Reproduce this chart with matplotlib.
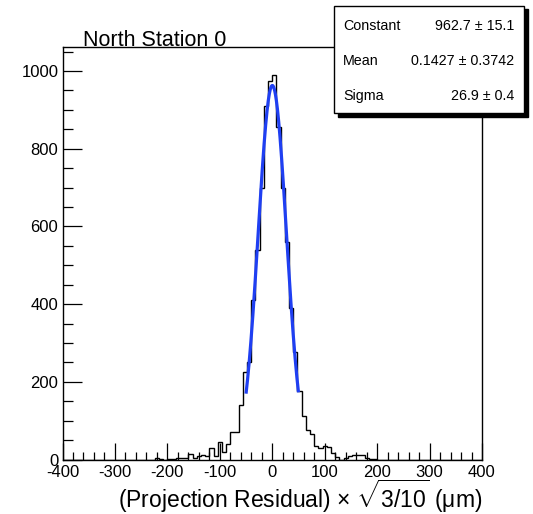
import numpy as np
import matplotlib
matplotlib.use("Agg")
import matplotlib.pyplot as plt
from matplotlib.patches import Rectangle
from matplotlib.ticker import MultipleLocator

plt.rcParams['font.family'] = ['Liberation Sans', 'DejaVu Sans']
plt.rcParams['mathtext.fontset'] = 'custom'
plt.rcParams['mathtext.rm'] = 'Liberation Sans'
plt.rcParams['mathtext.it'] = 'Liberation Sans:italic'
plt.rcParams['axes.unicode_minus'] = False

# histogram binning: 100 bins of 8 um on [-400, 400]
x_min, x_max, bin_width = -400, 400, 8

# counts for the populated bins, starting at the bin [-232, -224]
first_edge = -232
counts_core = [
    0, 3, 1, 0, 1, 2, 4, 5, 4, 13, 5, 10, 11, 9, 30, 10, 46, 19, 40, 70,
    70, 140, 226, 252, 410, 540, 700, 910, 975, 989, 856, 698, 560, 390, 276, 176,
    112, 76, 66, 35, 30, 35, 33, 16, 6, 0, 3, 10, 11, 11, 11, 5, 2, 1,
]

# gaussian fit results
fit_constant, fit_constant_err = 962.7, 15.1
fit_mean, fit_mean_err = 0.1427, 0.3742
fit_sigma, fit_sigma_err = 26.9, 0.4
fit_range = (-50, 50)

title = "North Station 0"
xlabel = r"(Projection Residual) × $\sqrt{3/10}$ (μm)"

edges = np.arange(x_min, x_max + bin_width, bin_width)
counts = np.zeros(len(edges) - 1)
i0 = (first_edge - x_min) // bin_width
counts[i0:i0 + len(counts_core)] = counts_core

W, H = 533, 514
fig = plt.figure(figsize=(W / 100, H / 100), dpi=100)
ax = fig.add_axes([62.5 / W, 1 - 459.5 / H, 419.5 / W, 413 / H])

ax.stairs(counts, edges, color='black', lw=1.0)

xf = np.linspace(fit_range[0], fit_range[1], 300)
yf = fit_constant * np.exp(-0.5 * ((xf - fit_mean) / fit_sigma) ** 2)
ax.plot(xf, yf, color='#1f3ff2', lw=2.3, solid_capstyle='butt')

ax.set_xlim(x_min, x_max)
ax.set_ylim(0, 1063)
ax.xaxis.set_major_locator(MultipleLocator(100))
ax.xaxis.set_minor_locator(MultipleLocator(20))
ax.yaxis.set_major_locator(MultipleLocator(200))
ax.yaxis.set_minor_locator(MultipleLocator(50))
ax.tick_params(which='both', direction='in', top=False, right=False,
               width=0.9, labelsize=12)
ax.tick_params(axis='x', which='major', length=12, pad=4)
ax.tick_params(axis='x', which='minor', length=6)
ax.tick_params(axis='y', which='major', length=14, pad=3)
ax.tick_params(axis='y', which='minor', length=7)
for s in ax.spines.values():
    s.set_linewidth(1.0)

# axis title, right-aligned under the frame
fig.text(482 / W, 1 - 496.5 / H, xlabel, fontsize=16.5, ha='right', va='center')

fig.text(83 / W, 1 - 46 / H, title, fontsize=15.5, va='baseline', ha='left')

# stats box with drop shadow
bx0, by0, bx1, by1 = 334 / W, 1 - 113 / H, 524 / W, 1 - 6 / H
fig.patches.append(Rectangle((bx0 + 3.5 / W, by0 - 3.5 / H), bx1 - bx0, by1 - by0,
                             transform=fig.transFigure, facecolor='black',
                             edgecolor='black', zorder=5))
fig.patches.append(Rectangle((bx0, by0), bx1 - bx0, by1 - by0,
                             transform=fig.transFigure, facecolor='white',
                             edgecolor='black', lw=1.0, zorder=6))

rows = [
    ("Constant", f"{fit_constant:.1f} ± {fit_constant_err:.1f}"),
    ("Mean", f"{fit_mean:.4f} ± {fit_mean_err:.4f}"),
    ("Sigma", f"{fit_sigma:.1f} ± {fit_sigma_err:.1f}"),
]
for k, (name, val) in enumerate(rows):
    yy = 1 - (25.7 + 35 * k) / H
    fig.text(343 / W, yy, name, fontsize=10.3, va='center', ha='left', zorder=7)
    fig.text(514 / W, yy, val, fontsize=10.3, va='center', ha='right', zorder=7)

fig.savefig("out.png", dpi=100)
